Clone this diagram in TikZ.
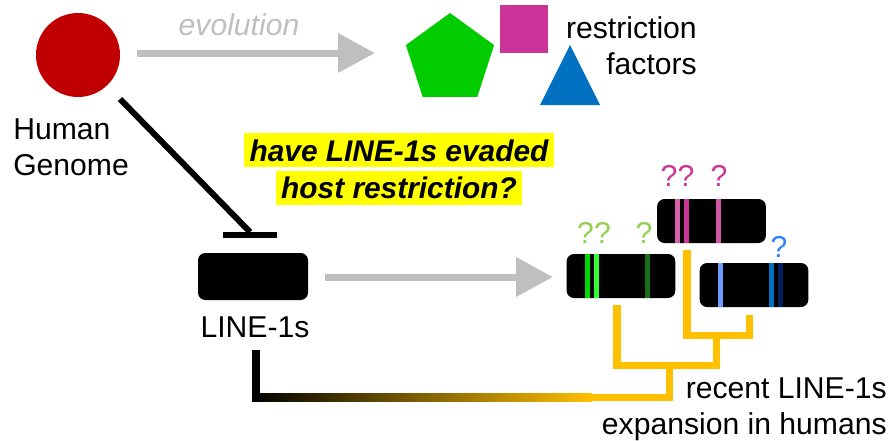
\documentclass[tikz,border=0pt]{standalone}
\usepackage{fontspec}
\setmainfont{Liberation Sans}
\usetikzlibrary{arrows.meta,calc}
\definecolor{hgred}{HTML}{C00000}
\definecolor{evogray}{HTML}{BFBFBF}
\definecolor{pentgreen}{HTML}{00CC00}
\definecolor{mag}{HTML}{CC3399}
\definecolor{triblue}{HTML}{0070C0}
\definecolor{hlyellow}{HTML}{FFFF00}
\definecolor{treey}{HTML}{FFC000}
\definecolor{gbandA}{HTML}{00D800}
\definecolor{gbandB}{HTML}{33FF33}
\definecolor{gbandC}{HTML}{1A6E1A}
\definecolor{pbandA}{HTML}{D862AA}
\definecolor{pbandB}{HTML}{CC3399}
\definecolor{pbandC}{HTML}{D455A6}
\definecolor{bbandA}{HTML}{6A9BFF}
\definecolor{bbandB}{HTML}{0070C0}
\definecolor{bbandC}{HTML}{002060}
\definecolor{qpink}{HTML}{CC3399}
\definecolor{qgreen}{HTML}{92D050}
\definecolor{qblue}{HTML}{2E82FF}
\newcommand\hlbox[1]{{\setlength\fboxsep{0pt}\colorbox{hlyellow}{\rule[-4.5pt]{0pt}{25.5pt}\kern4pt#1\kern4pt}}}
\begin{document}
\begin{tikzpicture}[x=0.75pt,y=-0.75pt,
  every node/.style={font=\fontsize{22.6}{27.5}\selectfont, inner sep=0pt},
  grayarrow/.style={draw=evogray, line width=5.25pt, -{Triangle[length=27.75pt,width=28.5pt]}},
  blkbox/.style={fill=black, rounded corners=5.5pt},
  cbox/.style={blkbox, minimum width=81.5pt, minimum height=33pt},
  tree/.style={draw=treey, line width=5.7pt, line join=miter, line cap=butt},
  inhib/.style={draw=black, line width=4.5pt}]
\useasboundingbox (0,0) rectangle (893,440);

% Human genome
\node[circle, fill=hgred, minimum size=63pt] (hg) at (78,55) {};
\node[anchor=north west, align=left] (hgl) at (13,118) {Human\\Genome};

% evolution arrow
\node[anchor=base, text=evogray, font=\fontsize{22.6}{27.5}\selectfont\itshape] (evo) at (239,35) {evolution};
\coordinate (evoS) at (137,53);
\coordinate (evoE) at (375,53);
\draw[grayarrow] (evoS) -- (evoE);

% restriction factors
\fill[pentgreen] (450,13) -- (494.1,45.1) -- (477.3,96.9) -- (422.7,96.9) -- (405.9,45.1) -- cycle;
\fill[mag] (500,5) rectangle (548,53);
\fill[triblue] (570,45) -- (600,105) -- (540,105) -- cycle;
\node[anchor=north east, align=right] (rf) at (697,16) {restriction\\factors};

% question
\node[anchor=north, align=center, font=\fontsize{22.4}{28}\selectfont\bfseries\itshape] (q) at (399,133)
  {\hlbox{have LINE-1s evaded}\\\hlbox{host restriction?}};

% LINE-1s
\node[blkbox, minimum width=82.5pt, minimum height=35.25pt] (l1) at (253,276.5) {};
\node[anchor=base] (l1l) at (255,337) {LINE-1s};

% inhibition
\coordinate (inhS) at (120,99);
\coordinate (inhE) at (250,232);
\coordinate (barL) at (223,235);
\coordinate (barR) at (277,235);
\draw[inhib] (inhS) -- (inhE);
\draw[draw=black, line width=5pt] (barL) -- (barR);

% boxes with bands
\node[cbox] (pb) at (711.5,221) {};
\node[cbox] (gb) at (621,276) {};
\node[cbox] (bb) at (754,285) {};
\fill[pbandA] (675,199) rectangle (680,243);
\fill[pbandB] (684,199) rectangle (689,243);
\fill[pbandC] (716,199) rectangle (721,243);
\fill[gbandA] (585,254) rectangle (590,298);
\fill[gbandB] (594,254) rectangle (599,298);
\fill[gbandC] (645,254) rectangle (650,298);
\fill[bbandA] (718,263) rectangle (723,307);
\fill[bbandB] (769,263) rectangle (774,307);
\fill[bbandC] (778,263) rectangle (783,307);

% question marks
\node[anchor=base, text=qpink] (qp1) at (677.5,186) {??};
\node[anchor=base, text=qpink] (qp2) at (719,186) {?};
\node[anchor=base, text=qgreen] (qg1) at (594,243) {??};
\node[anchor=base, text=qgreen] (qg2) at (644,243) {?};
\node[anchor=base, text=qblue] (qb1) at (779,257) {?};

% LINE-1 to expansion arrow
\coordinate (l1A) at (325,277);
\coordinate (l1B) at (553,277);
\draw[grayarrow] (l1A) -- (l1B);

% tree
\coordinate (tP) at (687,250);
\coordinate (tB) at (749.5,315);
\coordinate (tG) at (617,305);
\draw[tree] (tP) -- (687,335.5) -- (tB |- 0,335.5) -- (tB);
\draw[tree] (tG) -- (617,365.5) -- (716.5,365.5) -- (716.5,335.5);
\draw[tree] (669.5,365.5) -- (669.5,397.5) -- (585,397.5);
\shade[left color=black, middle color=treey!62!black, right color=treey] (252,393.7) rectangle (592,401.3);
\fill[black] (252,350) rectangle (259.6,401.3);

\node[anchor=north east, align=right] (rec) at (887,377) {recent LINE-1s\\expansion in humans};
\end{tikzpicture}
\end{document}
